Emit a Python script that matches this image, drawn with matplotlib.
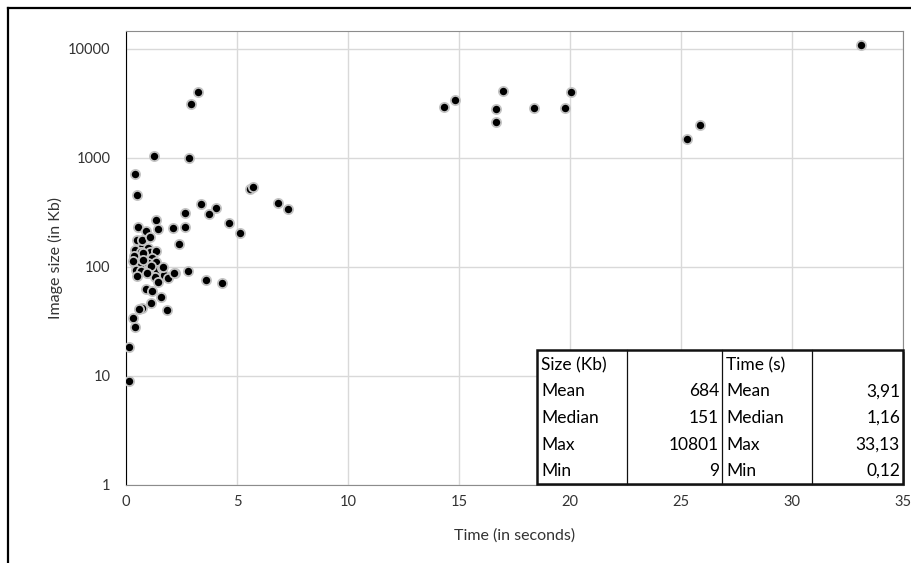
import numpy as np
import matplotlib.pyplot as plt
from matplotlib.lines import Line2D
from matplotlib.patches import Rectangle

plt.rcParams['font.family'] = ['Lato', 'DejaVu Sans']

# time (s) / image size (Kb)
time_s = [33.13, 14.32, 14.82, 16.97, 16.68, 16.65, 18.38, 20.05, 19.77, 25.86, 25.27,
          3.24, 2.93, 1.25, 2.85, 0.41, 0.48, 5.59, 5.70, 3.38, 4.04, 3.72, 2.67, 4.65,
          5.14, 6.86, 7.31, 1.34, 0.56, 0.89, 1.43, 2.13, 2.67, 2.40, 2.79, 3.59, 4.32,
          0.56, 0.71, 0.41, 0.98, 0.68, 1.08, 1.34, 0.56, 0.83, 1.16, 0.37, 0.66, 1.00,
          1.34, 0.44, 0.68, 1.00, 1.38, 1.64, 1.73, 1.31, 1.91, 2.21, 1.46, 0.48, 0.71,
          1.08, 0.36, 0.78, 0.33, 0.78, 1.14, 1.67, 0.48, 0.96, 2.18, 0.90, 1.16, 1.58,
          1.13, 0.73, 0.60, 1.83, 0.33, 0.41, 0.15, 0.12]
size_kb = [10801, 2920, 3400, 4120, 2820, 2150, 2860, 4030, 2860, 2000, 1500,
           4030, 3130, 1040, 995, 708, 458, 520, 540, 378, 350, 308, 315, 255,
           206, 387, 338, 268, 231, 215, 222, 226, 234, 162, 92, 76, 72,
           169, 157, 143, 148, 138, 136, 140, 120, 120, 120, 110, 104, 108,
           112, 94, 91, 87.5, 94, 97, 84.5, 81.5, 79, 89, 73, 177, 177,
           190, 126, 134, 114, 116, 102, 99, 82, 88, 88, 63, 60, 53,
           47, 42, 41, 40, 34, 28, 18.6, 9]

x_ticks = [0, 5, 10, 15, 20, 25, 30, 35]
y_ticks = [1, 10, 100, 1000, 10000]

# summary table
table_rows = [["Size (Kb)", "", "Time (s)", ""],
              ["Mean", "684", "Mean", "3,91"],
              ["Median", "151", "Median", "1,16"],
              ["Max", "10801", "Max", "33,13"],
              ["Min", "9", "Min", "0,12"]]

W, H = 911, 563
fig = plt.figure(figsize=(W / 100, H / 100), dpi=100)
fig.patch.set_facecolor('white')

def fx(px):
    return px / W

def fy(py):
    return 1 - py / H

ax = fig.add_axes([fx(126), fy(485), (903 - 126) / W, (485 - 31) / H])
ax.scatter(time_s, size_kb, s=44, c='black', edgecolors='#c4c4c4', linewidths=1.3, zorder=3)

ax.set_yscale('log')
ax.set_xlim(0, 35)
ax.set_ylim(1, 10 ** 4.165)
ax.set_xticks(x_ticks)
ax.set_yticks(y_ticks)
ax.set_yticklabels([str(v) for v in y_ticks])
ax.yaxis.set_minor_locator(plt.NullLocator())
ax.grid(True, color='#d9d9d9', linewidth=1)
ax.set_axisbelow(True)
ax.tick_params(axis='both', length=0, labelsize=10.5, colors='#333333')
ax.tick_params(axis='y', pad=11)
ax.tick_params(axis='x', pad=7)

for side in ['top', 'right', 'bottom']:
    ax.spines[side].set_color('#8c8c8c')
ax.spines['left'].set_color('black')

ax.set_xlabel("Time (in seconds)", fontsize=11.5, color='#333333', labelpad=14)
ax.set_ylabel("Image size (in Kb)", fontsize=11.5, color='#333333', labelpad=4)

# outer chart frame (partially cropped in the reference)
fig.add_artist(Line2D([fx(7.5), fx(7.5)], [fy(8), 0], color='black', linewidth=1.6))
fig.add_artist(Line2D([fx(7.5), 1], [fy(8), fy(8)], color='black', linewidth=1.6))

# table overlay
t_left, t_right, t_top, t_bot = 537, 903, 350, 484
col_x = [537, 627, 722, 812, 903]
row_y = [365.5, 391.5, 418, 444.5, 471]
fig.add_artist(Rectangle((fx(t_left + 2), fy(t_bot + 2)), (t_right - t_left) / W, (t_bot - t_top) / H,
                         facecolor='#9a9a9a', edgecolor='none', zorder=4))
fig.add_artist(Rectangle((fx(t_left), fy(t_bot)), (t_right - t_left) / W, (t_bot - t_top) / H,
                         facecolor='white', edgecolor='#111111', linewidth=1.8, zorder=5))
for cx in col_x[1:-1]:
    fig.add_artist(Line2D([fx(cx), fx(cx)], [fy(t_top), fy(t_bot)], color='#111111', linewidth=0.9, zorder=6))
for r, row in enumerate(table_rows):
    for c, txt in enumerate(row):
        if not txt:
            continue
        if c % 2 == 0:
            fig.text(fx(col_x[c] + 4), fy(row_y[r]), txt, ha='left', va='center', fontsize=12.5, color='black', zorder=7)
        else:
            fig.text(fx(col_x[c + 1] - 3), fy(row_y[r]), txt, ha='right', va='center', fontsize=12.5, color='black', zorder=7)

plt.savefig("out.png", dpi=100)
